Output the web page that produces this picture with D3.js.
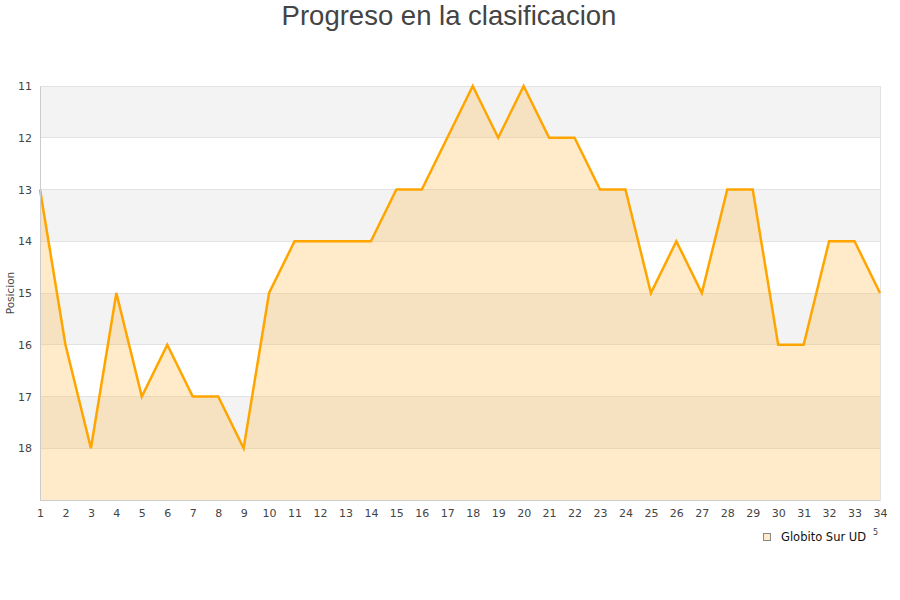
<!DOCTYPE html>
<html><head><meta charset="utf-8">
<script src="https://cdn.jsdelivr.net/npm/d3@7"></script>
<style>body{margin:0;background:#fff}</style>
</head><body>
<svg id="c" width="900" height="600"></svg>
<script>
const jornadas = d3.range(1, 35);
const posiciones = [13,16,18,15,17,16,17,17,18,15,14,14,14,14,13,13,12,11,12,11,12,12,13,13,15,14,15,13,13,16,16,14,14,15];
const yTicks = [11,12,13,14,15,16,17,18];
const bands = [11,13,15,17];
const title = "Progreso en la clasificacion";
const yTitle = "Posicion";
const seriesName = "Globito Sur UD";

const svg = d3.select("#c");
const L = 40, R = 880, T = 86, B = 500;
const x = d3.scaleLinear().domain([1, 34]).range([L, R]);
const y = d3.scaleLinear().domain([11, 19]).range([T, B]);

svg.selectAll("rect.band").data(bands).enter().append("rect")
  .attr("x", L).attr("width", R - L)
  .attr("y", d => y(d)).attr("height", d => y(d + 1) - y(d))
  .attr("fill", "#f3f3f3");
svg.selectAll("line.grid").data(d3.range(11, 20)).enter().append("line")
  .attr("x1", L).attr("x2", R).attr("y1", d => y(d)).attr("y2", d => y(d))
  .attr("stroke", "#e2e2e2").attr("stroke-width", 1).attr("shape-rendering", "crispEdges");
svg.append("line").attr("x1", R).attr("x2", R).attr("y1", T).attr("y2", B)
  .attr("stroke", "#e2e2e2").attr("shape-rendering", "crispEdges");

const area = d3.area().x((d, i) => x(jornadas[i])).y0(y(19)).y1(d => y(d));
svg.append("path").datum(posiciones).attr("d", area)
  .attr("fill", "rgba(255,190,80,0.3)");
const line = d3.line().x((d, i) => x(jornadas[i])).y(d => y(d));
svg.append("path").datum(posiciones).attr("d", line)
  .attr("fill", "none").attr("stroke", "#ffa500").attr("stroke-width", 2.5)
  .attr("stroke-linejoin", "miter");

const yAxis = d3.axisLeft(y).tickValues(yTicks).tickSize(0).tickPadding(8).tickFormat(d3.format("d"));
const gy = svg.append("g").attr("transform", `translate(${L},0)`).call(yAxis);
gy.select(".domain").attr("stroke", "#cccccc");
gy.selectAll("text").attr("font-family", "DejaVu Sans").attr("font-size", 11).attr("fill", "#444");

const xAxis = d3.axisBottom(x).tickValues(jornadas).tickSize(0).tickPadding(9).tickFormat(d3.format("d"));
const gx = svg.append("g").attr("transform", `translate(0,${B})`).call(xAxis);
gx.select(".domain").attr("stroke", "#cccccc");
gx.selectAll("text").attr("font-family", "DejaVu Sans").attr("font-size", 11).attr("fill", "#444");

svg.append("text").attr("x", 449).attr("y", 25).attr("text-anchor", "middle")
  .attr("font-family", "Liberation Sans, Arial, sans-serif").attr("font-size", 27.5)
  .attr("fill", "#444").text(title);
svg.append("text").attr("transform", "translate(14,293) rotate(-90)")
  .attr("text-anchor", "middle").attr("font-family", "DejaVu Sans").attr("font-size", 10.5)
  .attr("fill", "#444").text(yTitle);

svg.append("rect").attr("x", 763.5).attr("y", 533.5).attr("width", 7).attr("height", 7)
  .attr("fill", "#ffeccc").attr("stroke", "#888").attr("stroke-width", 1);
svg.append("text").attr("x", 781).attr("y", 541).attr("font-family", "DejaVu Sans")
  .attr("font-size", 11.5).attr("fill", "#111").text(seriesName);
svg.append("text").attr("x", 873).attr("y", 535).attr("font-family", "DejaVu Sans")
  .attr("font-size", 8).attr("fill", "#444").text("5");
</script>
</body></html>
